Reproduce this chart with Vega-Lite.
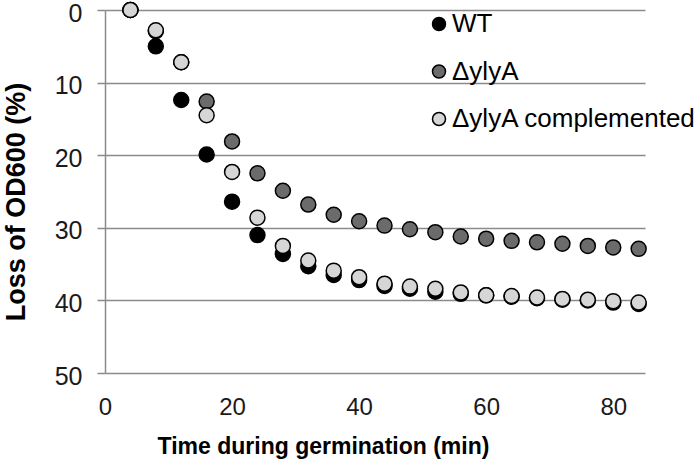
{
  "$schema": "https://vega.github.io/schema/vega-lite/v6.json",
  "width": 540,
  "height": 363,
  "autosize": {"type": "none"},
  "padding": {"left": 105, "top": 10, "right": 55, "bottom": 87},
  "background": "white",
  "config": {
    "view": {"stroke": null},
    "font": "Liberation Sans",
    "axis": {"labelFont": "Liberation Sans", "titleFont": "Liberation Sans", "labelColor": "#1a1a1a", "titleColor": "#000000"}
  },
  "data": {
    "values": [
      {"t": 4, "loss": 0, "strain": "WT"},
      {"t": 8, "loss": 5.0, "strain": "WT"},
      {"t": 12, "loss": 12.4, "strain": "WT"},
      {"t": 16, "loss": 19.9, "strain": "WT"},
      {"t": 20, "loss": 26.4, "strain": "WT"},
      {"t": 24, "loss": 31.0, "strain": "WT"},
      {"t": 28, "loss": 33.6, "strain": "WT"},
      {"t": 32, "loss": 35.3, "strain": "WT"},
      {"t": 36, "loss": 36.5, "strain": "WT"},
      {"t": 40, "loss": 37.2, "strain": "WT"},
      {"t": 44, "loss": 38.0, "strain": "WT"},
      {"t": 48, "loss": 38.4, "strain": "WT"},
      {"t": 52, "loss": 38.8, "strain": "WT"},
      {"t": 56, "loss": 39.1, "strain": "WT"},
      {"t": 60, "loss": 39.3, "strain": "WT"},
      {"t": 64, "loss": 39.5, "strain": "WT"},
      {"t": 68, "loss": 39.7, "strain": "WT"},
      {"t": 72, "loss": 39.9, "strain": "WT"},
      {"t": 76, "loss": 40.0, "strain": "WT"},
      {"t": 80, "loss": 40.3, "strain": "WT"},
      {"t": 84, "loss": 40.5, "strain": "WT"},
      {"t": 4, "loss": 0, "strain": "ΔylyA"},
      {"t": 8, "loss": 2.9, "strain": "ΔylyA"},
      {"t": 12, "loss": 7.2, "strain": "ΔylyA"},
      {"t": 16, "loss": 12.6, "strain": "ΔylyA"},
      {"t": 20, "loss": 18.1, "strain": "ΔylyA"},
      {"t": 24, "loss": 22.5, "strain": "ΔylyA"},
      {"t": 28, "loss": 24.9, "strain": "ΔylyA"},
      {"t": 32, "loss": 26.8, "strain": "ΔylyA"},
      {"t": 36, "loss": 28.2, "strain": "ΔylyA"},
      {"t": 40, "loss": 29.1, "strain": "ΔylyA"},
      {"t": 44, "loss": 29.7, "strain": "ΔylyA"},
      {"t": 48, "loss": 30.2, "strain": "ΔylyA"},
      {"t": 52, "loss": 30.6, "strain": "ΔylyA"},
      {"t": 56, "loss": 31.2, "strain": "ΔylyA"},
      {"t": 60, "loss": 31.5, "strain": "ΔylyA"},
      {"t": 64, "loss": 31.8, "strain": "ΔylyA"},
      {"t": 68, "loss": 32.0, "strain": "ΔylyA"},
      {"t": 72, "loss": 32.2, "strain": "ΔylyA"},
      {"t": 76, "loss": 32.5, "strain": "ΔylyA"},
      {"t": 80, "loss": 32.7, "strain": "ΔylyA"},
      {"t": 84, "loss": 32.9, "strain": "ΔylyA"},
      {"t": 4, "loss": 0, "strain": "ΔylyA complemented"},
      {"t": 8, "loss": 2.8, "strain": "ΔylyA complemented"},
      {"t": 12, "loss": 7.2, "strain": "ΔylyA complemented"},
      {"t": 16, "loss": 14.5, "strain": "ΔylyA complemented"},
      {"t": 20, "loss": 22.3, "strain": "ΔylyA complemented"},
      {"t": 24, "loss": 28.6, "strain": "ΔylyA complemented"},
      {"t": 28, "loss": 32.5, "strain": "ΔylyA complemented"},
      {"t": 32, "loss": 34.5, "strain": "ΔylyA complemented"},
      {"t": 36, "loss": 35.9, "strain": "ΔylyA complemented"},
      {"t": 40, "loss": 36.8, "strain": "ΔylyA complemented"},
      {"t": 44, "loss": 37.7, "strain": "ΔylyA complemented"},
      {"t": 48, "loss": 38.1, "strain": "ΔylyA complemented"},
      {"t": 52, "loss": 38.4, "strain": "ΔylyA complemented"},
      {"t": 56, "loss": 38.9, "strain": "ΔylyA complemented"},
      {"t": 60, "loss": 39.3, "strain": "ΔylyA complemented"},
      {"t": 64, "loss": 39.4, "strain": "ΔylyA complemented"},
      {"t": 68, "loss": 39.6, "strain": "ΔylyA complemented"},
      {"t": 72, "loss": 39.8, "strain": "ΔylyA complemented"},
      {"t": 76, "loss": 39.9, "strain": "ΔylyA complemented"},
      {"t": 80, "loss": 40.1, "strain": "ΔylyA complemented"},
      {"t": 84, "loss": 40.3, "strain": "ΔylyA complemented"}
    ]
  },
  "mark": {"type": "point", "filled": true, "shape": "circle", "size": 225, "stroke": "#000000", "strokeWidth": 1.5, "opacity": 1},
  "encoding": {
    "x": {
      "field": "t", "type": "quantitative",
      "scale": {"domain": [0, 85], "nice": false, "zero": true},
      "axis": {
        "title": "Time during germination (min)",
        "values": [0, 20, 40, 60, 80],
        "grid": false, "domain": false, "ticks": false, "labelFlush": false,
        "labelFontSize": 24, "labelPadding": 22,
        "titleFontSize": 23, "titleFontWeight": "bold", "titlePadding": 16,
        "titleX": 218, "titleAlign": "center"
      }
    },
    "y": {
      "field": "loss", "type": "quantitative",
      "scale": {"domain": [0, 50], "reverse": true, "nice": false},
      "axis": {
        "title": "Loss of OD600 (%)",
        "values": [0, 10, 20, 30, 40, 50],
        "grid": true, "gridColor": "#8a8a8a", "gridWidth": 1.5,
        "domain": true, "domainColor": "#8a8a8a", "domainWidth": 1.5,
        "ticks": true, "tickSize": 8, "tickColor": "#8a8a8a", "tickWidth": 1.5,
        "labelFlush": false,
        "labelFontSize": 25, "labelPadding": 15,
        "labelBaseline": "alphabetic", "labelOffset": 11,
        "titleFontSize": 27, "titleFontWeight": "bold", "titlePadding": 24,
        "titleY": 191.5, "titleAlign": "center"
      }
    },
    "color": {
      "field": "strain", "type": "nominal",
      "scale": {"domain": ["WT", "ΔylyA", "ΔylyA complemented"], "range": ["#000000", "#6b6b6b", "#d6d6d6"]},
      "legend": {
        "title": null, "orient": "none", "legendX": 321, "legendY": 1,
        "symbolType": "circle", "symbolSize": 169, "symbolStrokeColor": "#000000", "symbolStrokeWidth": 1.5,
        "labelFontSize": 26, "labelFont": "Liberation Sans", "labelColor": "#000000", "labelOffset": 0,
        "rowPadding": 21.5, "padding": 0, "labelLimit": 400
      }
    }
  }
}
